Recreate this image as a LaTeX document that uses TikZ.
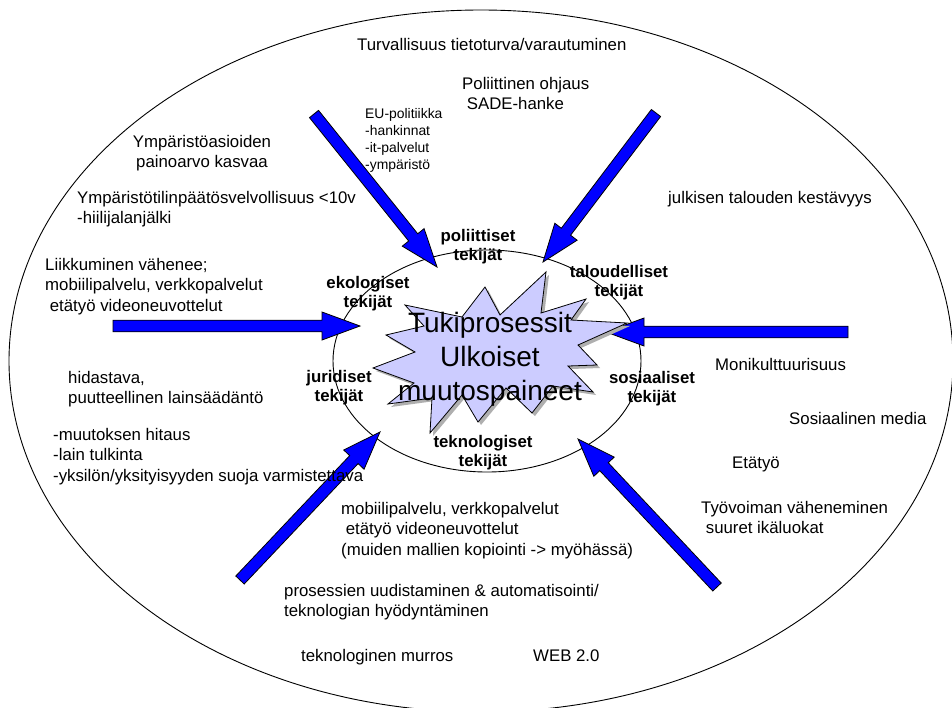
\documentclass[tikz,border=0pt]{standalone}
\usepackage{fontspec}
\setmainfont{Liberation Sans}
\usetikzlibrary{calc}
\definecolor{arrowblue}{RGB}{0,0,255}
\definecolor{burst}{RGB}{204,204,255}
\definecolor{burstshadow}{RGB}{175,175,175}
\newcommand{\linesL}[1]{\begin{tabular}[t]{@{}l@{}}#1\end{tabular}}
\newcommand{\linesC}[1]{\begin{tabular}[t]{@{}c@{}}#1\end{tabular}}
% block arrow from tail #1 to tip #2
\newcommand{\blockarrow}[2]{%
  \coordinate (hb) at ($(#2)!38pt!(#1)$);
  \filldraw[fatarrow]
    ($(#1)!5.8pt!90:(#2)$) -- ($(hb)!5.8pt!90:(#2)$) -- ($(hb)!14pt!90:(#2)$)
    -- (#2) -- ($(hb)!14pt!-90:(#2)$) -- ($(hb)!5.8pt!-90:(#2)$)
    -- ($(#1)!5.8pt!-90:(#2)$) -- cycle;}
\begin{document}
\begin{tikzpicture}[x=1pt,y=-1pt,
  txt/.style={inner sep=0pt,anchor=base west,font=\fontsize{16.8}{20.5}\selectfont},
  small/.style={inner sep=0pt,anchor=base west,font=\fontsize{13.9}{17.3}\selectfont},
  lbl/.style={inner sep=0pt,anchor=base,font=\bfseries\fontsize{16.8}{19.5}\selectfont},
  big/.style={inner sep=0pt,anchor=base,font=\fontsize{28}{34}\selectfont},
  fatarrow/.style={fill=arrowblue,draw=black,line width=0.8pt,line join=miter},
  ring/.style={draw=black,line width=0.9pt}]
\useasboundingbox (0,0) rectangle (952,707);
\fill[white] (0,0) rectangle (952,707);

% outer and inner ellipses
\draw[ring] (481,361) ellipse [x radius=472, y radius=351];
\draw[ring] (487,361) ellipse [x radius=154, y radius=111];

% arrows pointing at the inner ellipse
\coordinate (a1t) at (314,114); \coordinate (a1h) at (437,267);
\coordinate (a2t) at (656,113); \coordinate (a2h) at (543,262);
\coordinate (a3t) at (113,326); \coordinate (a3h) at (360,326);
\coordinate (a4t) at (848,332); \coordinate (a4h) at (606,332);
\coordinate (a5t) at (240,580); \coordinate (a5h) at (380,432);
\coordinate (a6t) at (717,587); \coordinate (a6h) at (578,439);
\blockarrow{a1t}{a1h}
\blockarrow{a2t}{a2h}
\blockarrow{a3t}{a3h}
\blockarrow{a4t}{a4h}
\blockarrow{a5t}{a5h}
\blockarrow{a6t}{a6h}

% explosion shape with its shadow
\def\burstpath{(500,315) -- (546,272) -- (541,313) -- (586,299) -- (571,320)
  -- (627,323) -- (578,345) -- (597,365) -- (568,366) -- (593,392)
  -- (553,386) -- (532,413) -- (506,388) -- (478,422) -- (462,395)
  -- (430,433) -- (432,398) -- (388,404) -- (414,383) -- (373,368)
  -- (415,352) -- (386,335) -- (424,326) -- (405,305) -- (462,317) -- (485,287) -- cycle}
\fill[burstshadow,shift={(3,3)}] \burstpath;
\filldraw[fill=burst,draw=black,line width=0.8pt] \burstpath;

\node[big] (core) at (490,332) {\linesC{Tukiprosessit\\Ulkoiset\\muutospaineet}};

% factor labels
\node[lbl] (pol) at (478,241) {\linesC{poliittiset\\tekijät}};
\node[lbl] (eko) at (368,288) {\linesC{ekologiset\\tekijät}};
\node[lbl] (tal) at (619,277) {\linesC{taloudelliset\\tekijät}};
\node[lbl] (jur) at (339,382) {\linesC{juridiset\\tekijät}};
\node[lbl] (sos) at (652,383) {\linesC{sosiaaliset\\tekijät}};
\node[lbl] (tek) at (483,447) {\linesC{teknologiset\\tekijät}};

% surrounding texts
\node[txt] (t1) at (357,50) {Turvallisuus tietoturva/varautuminen};
\node[txt] (t2) at (462,89) {\linesL{Poliittinen ohjaus\\\ SADE-hanke}};
\node[small] (t3) at (365,118) {\linesL{EU-politiikka\\-hankinnat\\-it-palvelut\\-ympäristö}};
\node[txt,anchor=base] (t4) at (202,147) {\linesC{Ympäristöasioiden\\painoarvo kasvaa}};
\node[txt] (t5) at (77,203) {\linesL{Ympäristötilinpäätösvelvollisuus <10v\\-hiilijalanjälki}};
\node[txt] (t6) at (45,270) {\linesL{Liikkuminen vähenee;\\mobiilipalvelu, verkkopalvelut\\\ etätyö videoneuvottelut}};
\node[txt] (t7) at (68,383) {\linesL{hidastava,\\puutteellinen lainsäädäntö}};
\node[txt] (t8) at (53,440) {\linesL{-muutoksen hitaus\\-lain tulkinta\\-yksilön/yksityisyyden suoja varmistettava}};
\node[txt] (t9) at (341,514) {\linesL{mobiilipalvelu, verkkopalvelut\\\ etätyö videoneuvottelut\\(muiden mallien kopiointi -> myöhässä)}};
\node[txt] (t10) at (284,596) {\linesL{prosessien uudistaminen \& automatisointi/\\teknologian hyödyntäminen}};
\node[txt] (t11) at (301,661) {teknologinen murros};
\node[txt] (t12) at (533,661) {WEB 2.0};
\node[txt] (t13) at (668,203) {julkisen talouden kestävyys};
\node[txt] (t14) at (715,370) {Monikulttuurisuus};
\node[txt] (t15) at (789,424) {Sosiaalinen media};
\node[txt] (t16) at (732,468) {Etätyö};
\node[txt] (t17) at (701,513) {\linesL{Työvoiman väheneminen\\\ suuret ikäluokat}};
\end{tikzpicture}
\end{document}
